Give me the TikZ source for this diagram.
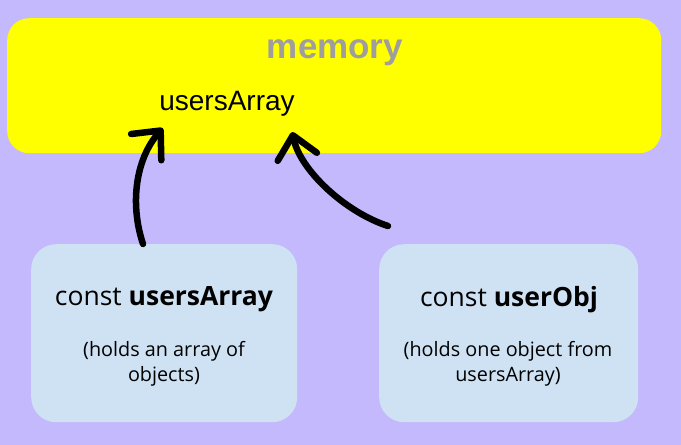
\documentclass[tikz,border=0pt]{standalone}
\usepackage{fontspec}
\setmainfont{Liberation Sans}
\newfontfamily\boxfont{Open Sans}
\usetikzlibrary{arrows.meta}
\usetikzlibrary{calc}

\definecolor{lavender}{RGB}{197,185,253}
\definecolor{memyellow}{RGB}{255,255,0}
\definecolor{boxblue}{RGB}{207,226,243}
\definecolor{memgray}{RGB}{158,158,158}

\begin{document}
\begin{tikzpicture}[x=1pt,y=-1pt]
  \tikzset{VAR/.style={fill=boxblue, rounded corners=25pt, minimum width=266pt, minimum height=178pt, anchor=north west},
           NAME/.style={font=\boxfont\fontsize{26.5}{30}\selectfont},
           NOTE/.style={font=\boxfont\fontsize{19.8}{25}\selectfont, align=center},
           PTR/.style={-{Straight Barb[length=22pt,width=40pt,round]}, line width=6.5pt, line cap=round}}

  \fill[lavender] (0,0) rectangle (681,445);
  \useasboundingbox (0,0) rectangle (681,445);

  % memory
  \node (mem) at (7,18) [fill=memyellow, rounded corners=22pt, minimum width=654pt, minimum height=135pt, anchor=north west]{};
  \node (memtitle) at (335,53) [font=\fontsize{35}{40}\selectfont\bfseries, text=memgray] {memory};
  \node (arr) at (227,104) [font=\fontsize{28}{32}\selectfont] {usersArray};

  % variables
  \node[VAR] (arrbox) at (31,244) {};
  \node[VAR, minimum width=259pt] (objbox) at (379,244) {};

  \node[NAME] (arrname) at (164,299) {const \textbf{usersArray}};
  \node[NOTE] (arrnote) at (164,364) {(holds an array of\\objects)};

  \node[NAME] (objname) at (509,300) {const \textbf{userObj}};
  \node[NOTE] (objnote) at (508,364) {(holds one object from\\usersArray)};

  % pointers
  \draw[PTR] ($(arrbox.north west)+(112,0)$) .. controls (130,205) and (135,160) .. ($(arr.south west)+(7,8)$);
  \draw[PTR] ($(objbox.north west)+(9,-18)$) .. controls (345,212) and (300,170) .. ($(arr.south east)+(-6,12)$);
\end{tikzpicture}
\end{document}
